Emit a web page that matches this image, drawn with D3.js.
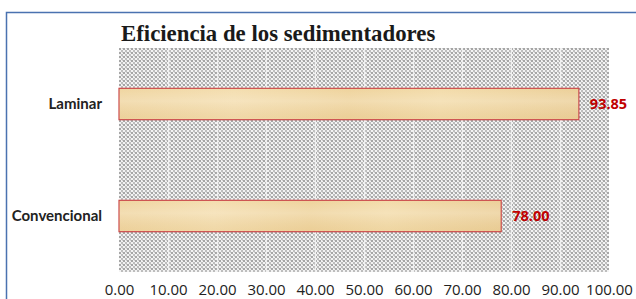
<!DOCTYPE html>
<html>
<head>
<meta charset="utf-8">
<script src="https://cdn.jsdelivr.net/npm/d3@7"></script>
<style>
  body { margin: 0; background: #fff; }
  svg { display: block; }
</style>
</head>
<body>
<div id="chart"></div>
<script>
// chart values
const categories = ['Laminar', 'Convencional'];
const values = [93.85, 78.00];
const xTicks = [0, 10, 20, 30, 40, 50, 60, 70, 80, 90, 100];
const title = 'Eficiencia de los sedimentadores';

const W = 636, H = 299;
const margin = { top: 48, right: 27, bottom: 27, left: 119 };
const width = W - margin.left - margin.right;
const height = H - margin.top - margin.bottom;

const svg = d3.select('#chart')
    .append('svg')
    .attr('width', W)
    .attr('height', H);

const defs = svg.append('defs');

// grey woven background
const pat = defs.append('pattern')
    .attr('id', 'weave')
    .attr('patternUnits', 'userSpaceOnUse')
    .attr('width', 4)
    .attr('height', 4);
pat.append('rect').attr('width', 4).attr('height', 4).attr('fill', '#f3f3f3');
pat.append('rect').attr('x', 0).attr('y', 0).attr('width', 2).attr('height', 2).attr('fill', '#a6a6a6');
pat.append('rect').attr('x', 2).attr('y', 2).attr('width', 2).attr('height', 2).attr('fill', '#bdbdbd');
pat.append('rect').attr('x', 3).attr('y', 0).attr('width', 1).attr('height', 1).attr('fill', '#d0d0d0');

// papyrus-like bar fill
const grad = defs.append('linearGradient')
    .attr('id', 'papyrus')
    .attr('x1', 0).attr('x2', 1).attr('y1', 0).attr('y2', 0);
[['0%', '#f0d6a2'], ['25%', '#f4deb0'], ['50%', '#efd49e'], ['70%', '#f3dcab'], ['100%', '#ecd09a']]
    .forEach(s => grad.append('stop').attr('offset', s[0]).attr('stop-color', s[1]));
const grad2 = defs.append('linearGradient')
    .attr('id', 'papyrusV')
    .attr('x1', 0).attr('x2', 0).attr('y1', 0).attr('y2', 1);
[['0%', 'rgba(255,255,255,0)'], ['40%', 'rgba(255,255,255,0.18)'], ['100%', 'rgba(210,170,100,0.12)']]
    .forEach(s => grad2.append('stop').attr('offset', s[0]).attr('stop-color', s[1]));

// outer chart border (top and left visible)
svg.append('path')
    .attr('d', `M6.5,${H + 2} V12.5 H${W + 2}`)
    .attr('fill', 'none')
    .attr('stroke', '#4a72b0')
    .attr('stroke-width', 1.5);

svg.append('text')
    .attr('x', 121)
    .attr('y', 41)
    .attr('font-family', '"Liberation Serif", "Times New Roman", serif')
    .attr('font-weight', 'bold')
    .attr('font-size', 22.8)
    .attr('fill', '#1a1a1a')
    .text(title);

const g = svg.append('g')
    .attr('transform', `translate(${margin.left},${margin.top})`);

const x = d3.scaleLinear()
    .domain([0, 100])
    .range([0, width]);

const y = d3.scaleBand()
    .domain(categories)
    .range([0, height])
    .paddingInner(0.72)
    .paddingOuter(0.36);

g.append('rect')
    .attr('width', width)
    .attr('height', height)
    .attr('fill', 'url(#weave)');

// vertical gridlines
g.append('g')
    .selectAll('line')
    .data(xTicks.slice(1, -1))
    .join('line')
    .attr('x1', d => Math.round(x(d)) + 0.5)
    .attr('x2', d => Math.round(x(d)) + 0.5)
    .attr('y1', 0)
    .attr('y2', height)
    .attr('stroke', '#f0f0f0')
    .attr('stroke-width', 1.2);

// x axis labels
const xAxis = g.append('g')
    .attr('transform', `translate(0,${height})`)
    .call(d3.axisBottom(x).tickValues(xTicks).tickFormat(d3.format('.2f')).tickSize(0).tickPadding(12));
xAxis.select('.domain').remove();
xAxis.selectAll('text')
    .attr('font-family', '"Open Sans", Lato, sans-serif')
    .attr('font-size', 15)
    .attr('fill', '#222');

// category labels
const yAxis = g.append('g')
    .call(d3.axisLeft(y).tickSize(0).tickPadding(17));
yAxis.select('.domain').remove();
yAxis.selectAll('text')
    .attr('font-family', 'Lato, "Liberation Sans", sans-serif')
    .attr('font-weight', 'bold')
    .attr('font-size', 15)
    .attr('fill', '#222');

const bars = g.append('g')
    .selectAll('g')
    .data(categories)
    .join('g');

bars.append('rect')
    .attr('x', 0)
    .attr('y', d => y(d))
    .attr('width', (d, i) => x(values[i]))
    .attr('height', y.bandwidth())
    .attr('fill', 'url(#papyrus)')
    .attr('stroke', '#cc4b4b')
    .attr('stroke-width', 1.2);

bars.append('rect')
    .attr('x', 0.6)
    .attr('y', d => y(d) + 1)
    .attr('width', (d, i) => x(values[i]) - 1.2)
    .attr('height', y.bandwidth() - 2)
    .attr('fill', 'url(#papyrusV)');

bars.append('text')
    .attr('x', (d, i) => x(values[i]) + 11)
    .attr('y', d => y(d) + y.bandwidth() / 2)
    .attr('dy', '0.36em')
    .attr('font-family', '"Open Sans", Lato, sans-serif')
    .attr('font-weight', 'bold')
    .attr('font-size', 14.5)
    .attr('fill', '#c00000')
    .text((d, i) => values[i].toFixed(2));
</script>
</body>
</html>
